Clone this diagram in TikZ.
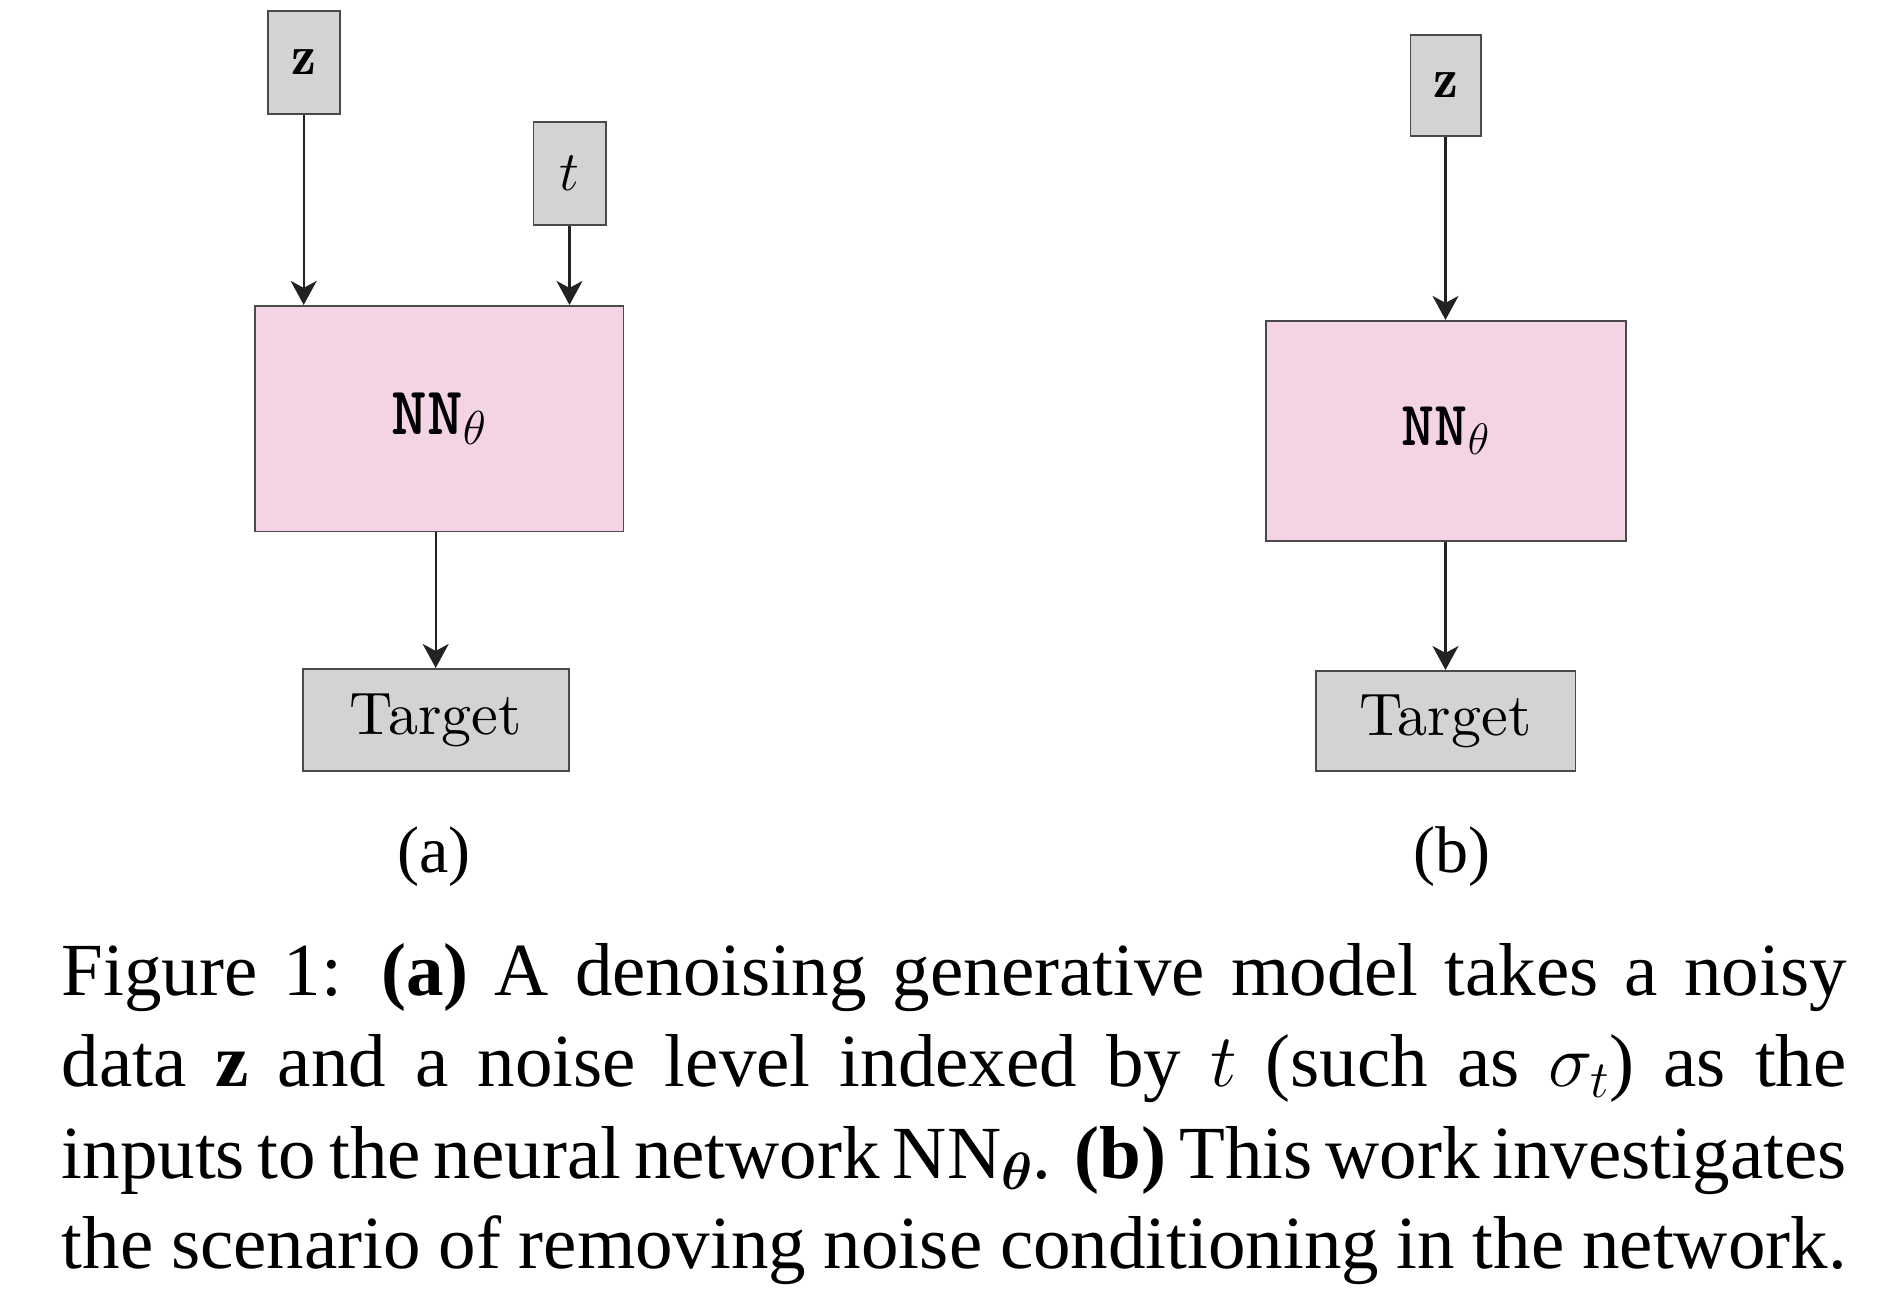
\RequirePackage{fix-cm}
\documentclass[tikz,border=0pt]{standalone}
\usepackage{amsmath}
\usepackage{fontspec}
\newfontfamily\capfont{Liberation Serif}
\newfontfamily\lmten{lmroman10-regular}[Extension=.otf]
\usetikzlibrary{arrows.meta}
\definecolor{boxgray}{HTML}{D3D3D3}
\definecolor{nnpink}{HTML}{F3D3E4}
\definecolor{edgegray}{HTML}{4A4A4A}
\definecolor{arrowdark}{HTML}{222222}
\tikzset{
  inbox/.style={draw=edgegray, line width=1.6pt, fill=boxgray, inner sep=0pt, font=\fontsize{56}{60}\selectfont},
  nnbox/.style={draw=edgegray, line width=1.6pt, fill=nnpink, inner sep=0pt},
  tgbox/.style={draw=edgegray, line width=1.6pt, fill=boxgray, inner sep=0pt, font=\lmten\fontsize{60}{64}\selectfont},
  flow/.style={draw=arrowdark, line width=2.3pt, -{Stealth[length=24pt,width=26pt,inset=7pt]}},
  sublabel/.style={font=\capfont\fontsize{66}{70}\selectfont, inner sep=0pt, anchor=base},
  capline/.style={font=\capfont\fontsize{75}{91}\selectfont, anchor=base west, inner sep=0pt,
    text width=1785pt, align=justify, execute at begin node={\parfillskip=0pt\relax}},
}
\begin{document}
\begin{tikzpicture}[x=1pt,y=-1pt]
\useasboundingbox (0,0) rectangle (1901,1310);
% ---- panel (a)
\node[inbox, minimum width=72pt, minimum height=103pt] (zA) at (303.7,62.2) {$\mathbf{z}$};
\node[inbox, minimum width=72.4pt, minimum height=103pt] (tA) at (569.5,173.5) {$t$};
\node[nnbox, minimum width=368.6pt, minimum height=225.6pt, font=\fontsize{68}{72}\selectfont] (nnA) at (439,418.5) {{\ttfamily\bfseries NN}$_\theta$};
\node[tgbox, minimum width=266pt, minimum height=102.3pt] (tgA) at (435.7,719.9) {Target};
\draw[flow] (zA.south) -- (zA.south |- nnA.north);
\draw[flow] (tA.south) -- (tA.south |- nnA.north);
\draw[flow] (nnA.south -| tgA.north) -- (tgA.north);
\node[sublabel] (labA) at (434,872) {(a)};
% ---- panel (b)
\node[inbox, minimum width=70.4pt, minimum height=100.7pt] (zB) at (1445.5,85.4) {$\mathbf{z}$};
\node[nnbox, minimum width=360pt, minimum height=220pt, font=\fontsize{63}{67}\selectfont] (nnB) at (1445.7,430.7) {{\ttfamily\bfseries NN}$_\theta$};
\node[tgbox, minimum width=259.6pt, minimum height=100.3pt] (tgB) at (1445.5,720.9) {Target};
\draw[flow] (zB.south) -- (zB.south |- nnB.north);
\draw[flow] (nnB.south -| tgB.north) -- (tgB.north);
\node[sublabel] (labB) at (1452,872) {(b)};
% ---- caption
\node[capline] (cap1) at (61.5,995) {Figure 1: \textbf{(a)} A denoising generative model takes a noisy};
\node[capline] (cap2) at (61.5,1086.5) {data \textbf{z} and a noise level indexed by $t$ (such as $\sigma_t$) as the};
\node[capline] (cap3) at (61.5,1178) {inputs to the neural network NN$_{\boldsymbol{\theta}}$. \textbf{(b)} This work investigates};
\node[capline] (cap4) at (61.5,1268) {the scenario of removing noise conditioning in the network.};
\end{tikzpicture}
\end{document}
